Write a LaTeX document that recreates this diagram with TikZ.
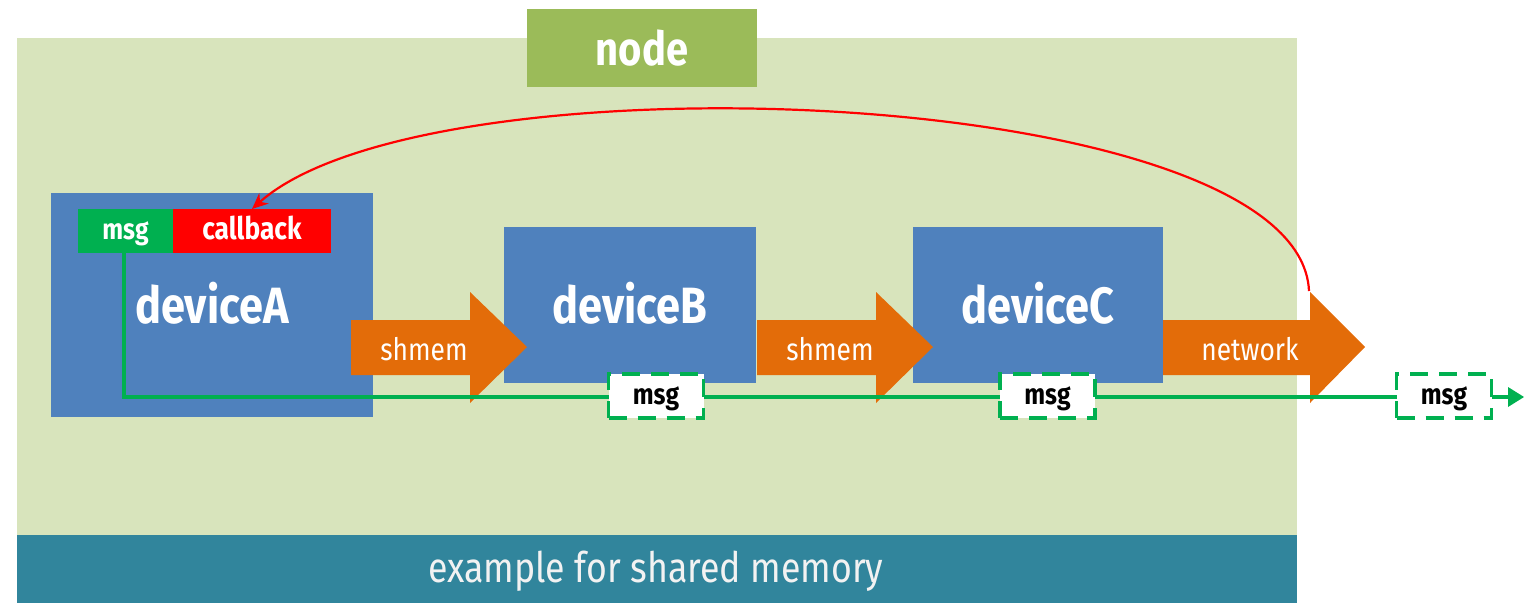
\documentclass[tikz,border=0pt]{standalone}
\usepackage{fontspec}
\setmainfont[FakeStretch=0.85]{Fira Sans}
\usetikzlibrary{arrows.meta}
\definecolor{nodebg}{HTML}{D8E4BC}
\definecolor{nodehead}{HTML}{9BBB59}
\definecolor{captionbg}{HTML}{31859C}
\definecolor{devblue}{HTML}{4F81BD}
\definecolor{pipeorange}{HTML}{E36C09}
\definecolor{msggreen}{HTML}{00B050}
\tikzset{
  devlabel/.style={text=white, anchor=base, font=\bfseries\fontsize{51}{54}\selectfont},
  tag/.style={text=white, font=\bfseries\fontsize{#1}{32}\selectfont, inner sep=0pt,
    text height=19pt, text depth=3pt},
  msgbox/.style={fill=white, draw=msggreen, line width=3.5pt, dash pattern=on 18pt off 11pt,
    font=\bfseries\fontsize{29}{32}\selectfont, inner sep=0pt, minimum width=95pt, minimum height=44pt,
    text height=19pt, text depth=3pt},
  flowline/.style={draw=msggreen, line width=4.5pt},
  pipelabel/.style={text=white, font=\fontsize{31}{34}\selectfont},
}
\newcommand{\pipearrow}[3]{%
  % body start x, head start x, tip x
  \fill[pipeorange] (#1,320) -- (#2,320) -- (#2,292) -- (#3,347) -- (#2,403) -- (#2,375) -- (#1,375) -- cycle;
}
\begin{document}
\begin{tikzpicture}[x=1pt,y=-1pt]
\useasboundingbox (0,0) rectangle (1524,603);
% node panel and caption
\fill[nodebg] (17,38) rectangle (1297,535);
\fill[captionbg] (17,535) rectangle (1297,603);
\node[text=white!95!black, font=\fontsize{42}{46}\selectfont] (caption) at (656,571) {example for shared memory};
\fill[nodehead] (527,9) rectangle (757,87);
\node[text=white, font=\bfseries\fontsize{47}{50}\selectfont] (nodelabel) at (642,48) {node};

% devices
\fill[devblue] (51,193) rectangle (373,417);
\node[devlabel] (devA) at (212,323) {deviceA};
\fill[devblue] (504,227) rectangle (756,383);
\node[devlabel] (devB) at (630,323) {deviceB};
\fill[devblue] (913,227) rectangle (1163,383);
\node[devlabel] (devC) at (1038,323) {deviceC};

% msg / callback tags
\fill[msggreen] (78,209) rectangle (173,253);
\node[tag=29] (msgA) at (125.5,231) {msg};
\fill[red] (173,209) rectangle (331,253);
\node[tag=31] (cb) at (252,231) {callback};
\coordinate (cbtop) at (252,209);
\coordinate (msgfoot) at (124,253);

% transport arrows
\pipearrow{351}{470}{527}
\node[pipelabel] (sh1) at (424,349) {shmem};
\pipearrow{757}{876}{933}
\node[pipelabel] (sh2) at (830,349) {shmem};
\pipearrow{1163}{1310}{1365}
\node[pipelabel] (net) at (1250,349) {network};
\coordinate (nethead) at (1309,291);

% message path
\coordinate (corner) at (124,397);
\coordinate (out) at (1510,397);
\draw[flowline, line join=miter] (msgfoot) -- (corner) -- (out);
\fill[msggreen] (1508,387) -- (1524,397) -- (1508,407) -- cycle;
\node[msgbox] (mB) at (656,396) {msg};
\node[msgbox] (mC) at (1047.5,396) {msg};
\node[msgbox] (mD) at (1444,396) {msg};

% callback return
\draw[red, line width=2.2pt, -{Stealth[length=16pt,width=14pt]}]
  (nethead) .. controls (1300,85) and (430,50) .. (cbtop);
\end{tikzpicture}
\end{document}
